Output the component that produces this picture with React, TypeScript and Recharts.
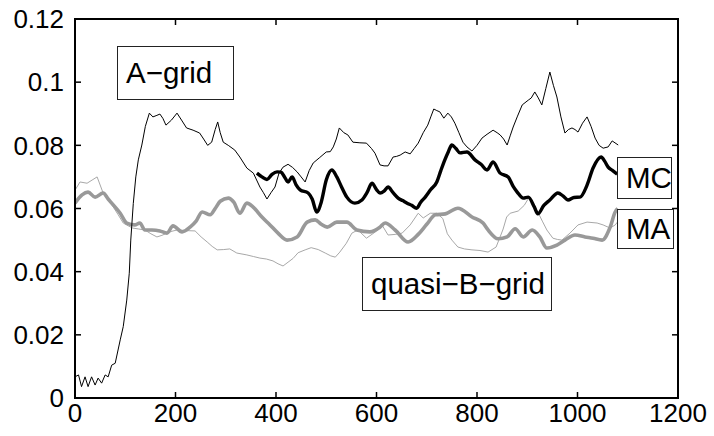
import React from "react";
import { LineChart, Line, XAxis, YAxis, ReferenceLine } from "recharts";

const xTicks = [0, 200, 400, 600, 800, 1000, 1200];
const yTicks = [0, 0.02, 0.04, 0.06, 0.08, 0.1, 0.12];

// A-grid (thin black)
const aGrid: [number, number][] = [
  [0, 0.0067], [7, 0.0073], [13, 0.0036], [20, 0.0067], [26, 0.0036], [33, 0.0067], [40, 0.0041], [46, 0.0063], [53, 0.0047], [60, 0.0073], [66, 0.0067], [73, 0.0104], [80, 0.011], [90, 0.0184], [96, 0.0226], [103, 0.031], [108, 0.0395], [111, 0.05], [116, 0.0616], [121, 0.07], [126, 0.0754], [133, 0.0801], [140, 0.086], [148, 0.0902], [155, 0.089], [163, 0.0895], [169, 0.0899], [175, 0.0885], [181, 0.0864], [192, 0.088], [203, 0.0902], [212, 0.088], [222, 0.0855], [235, 0.0848], [248, 0.0839], [256, 0.082], [264, 0.08], [272, 0.081], [279, 0.085], [284, 0.0874], [289, 0.084], [295, 0.081], [305, 0.08], [318, 0.0785], [328, 0.0763], [342, 0.0728], [355, 0.0712], [368, 0.0668], [375, 0.065], [382, 0.063], [390, 0.065], [398, 0.0668], [406, 0.0712], [414, 0.0731], [424, 0.074], [433, 0.073], [442, 0.0716], [450, 0.07], [458, 0.0684], [466, 0.072], [474, 0.0744], [486, 0.076], [500, 0.0779], [508, 0.078], [514, 0.0795], [520, 0.082], [526, 0.0855], [535, 0.084], [543, 0.0833], [553, 0.081], [567, 0.0808], [580, 0.0807], [590, 0.079], [597, 0.0775], [607, 0.0738], [615, 0.0735], [623, 0.0735], [633, 0.0763], [640, 0.0765], [647, 0.0769], [657, 0.0779], [667, 0.0773], [675, 0.079], [683, 0.0807], [693, 0.084], [702, 0.0864], [708, 0.089], [714, 0.0915], [720, 0.091], [726, 0.0906], [734, 0.0886], [742, 0.0902], [749, 0.089], [756, 0.087], [764, 0.084], [772, 0.081], [780, 0.0795], [790, 0.0782], [800, 0.08], [810, 0.0823], [820, 0.0835], [832, 0.0848], [840, 0.084], [846, 0.0833], [853, 0.082], [860, 0.0801], [866, 0.083], [872, 0.0858], [880, 0.089], [890, 0.0928], [902, 0.0943], [908, 0.095], [915, 0.0969], [922, 0.095], [929, 0.0928], [937, 0.098], [945, 0.1032], [952, 0.099], [959, 0.0953], [967, 0.089], [975, 0.0839], [982, 0.085], [989, 0.0855], [995, 0.085], [1001, 0.0842], [1010, 0.087], [1019, 0.089], [1027, 0.086], [1035, 0.0823], [1043, 0.08], [1051, 0.0791], [1061, 0.0795], [1069, 0.0814], [1081, 0.0801],
];

// MC (thick black)
const mc: [number, number][] = [
  [362, 0.0712], [372, 0.07], [382, 0.0692], [392, 0.0708], [402, 0.0716], [410, 0.0715], [417, 0.07], [424, 0.0684], [432, 0.07], [440, 0.0675], [448, 0.0659], [464, 0.0649], [472, 0.063], [481, 0.0589], [490, 0.062], [500, 0.069], [511, 0.0722], [521, 0.07], [530, 0.067], [541, 0.0636], [557, 0.0617], [571, 0.0627], [581, 0.065], [591, 0.068], [600, 0.066], [607, 0.0649], [615, 0.0655], [623, 0.0668], [633, 0.065], [643, 0.0633], [652, 0.0625], [661, 0.0617], [670, 0.061], [680, 0.0601], [688, 0.062], [697, 0.0636], [708, 0.066], [720, 0.0684], [728, 0.072], [736, 0.0754], [743, 0.078], [750, 0.0801], [758, 0.079], [766, 0.0776], [780, 0.0779], [796, 0.0754], [808, 0.074], [820, 0.0722], [832, 0.0747], [846, 0.0712], [862, 0.07], [872, 0.067], [880, 0.0652], [892, 0.0633], [902, 0.0636], [914, 0.0605], [921, 0.0583], [933, 0.061], [945, 0.0627], [961, 0.0649], [971, 0.064], [981, 0.0627], [993, 0.0635], [1005, 0.0636], [1019, 0.0674], [1031, 0.0728], [1047, 0.0763], [1054, 0.075], [1061, 0.0731], [1070, 0.072], [1079, 0.0709],
];

// quasi-B-grid (thin grey)
const quasiB: [number, number][] = [
  [0, 0.0658], [10, 0.0684], [24, 0.068], [34, 0.069], [44, 0.07], [56, 0.0649], [66, 0.063], [76, 0.0605], [86, 0.058], [96, 0.0554], [106, 0.0545], [115, 0.0538], [127, 0.0535], [139, 0.0532], [151, 0.052], [163, 0.051], [173, 0.0515], [183, 0.0522], [193, 0.0528], [203, 0.0532], [221, 0.053], [239, 0.0529], [251, 0.051], [263, 0.0494], [273, 0.048], [283, 0.0469], [296, 0.047], [308, 0.0472], [322, 0.0459], [342, 0.0453], [355, 0.0448], [368, 0.0443], [381, 0.044], [394, 0.0434], [404, 0.0425], [414, 0.0418], [424, 0.043], [434, 0.0442], [444, 0.046], [458, 0.0469], [470, 0.0476], [484, 0.047], [498, 0.0459], [509, 0.045], [518, 0.0446], [527, 0.0462], [540, 0.049], [551, 0.0522], [563, 0.0532], [580, 0.0506], [597, 0.0525], [612, 0.0545], [623, 0.0516], [637, 0.0518], [651, 0.0522], [667, 0.0548], [683, 0.0585], [693, 0.057], [707, 0.0585], [720, 0.0585], [732, 0.0568], [741, 0.052], [750, 0.05], [762, 0.0478], [775, 0.0472], [790, 0.0469], [806, 0.0467], [822, 0.0462], [838, 0.0478], [846, 0.051], [852, 0.0535], [859, 0.0573], [866, 0.0585], [882, 0.0592], [894, 0.061], [904, 0.0636], [914, 0.061], [921, 0.0589], [930, 0.056], [939, 0.0532], [951, 0.0506], [960, 0.0502], [969, 0.05], [985, 0.0522], [1001, 0.0548], [1019, 0.0557], [1039, 0.0554], [1051, 0.0548], [1065, 0.0538], [1075, 0.0548], [1081, 0.056],
];

// MA (thick grey)
const ma: [number, number][] = [
  [0, 0.0617], [14, 0.0643], [26, 0.0652], [40, 0.0636], [56, 0.0649], [66, 0.063], [73, 0.0617], [90, 0.0585], [103, 0.0554], [119, 0.0548], [129, 0.0554], [139, 0.0532], [153, 0.0532], [169, 0.0529], [183, 0.0522], [195, 0.0545], [213, 0.0526], [229, 0.0541], [241, 0.056], [253, 0.0589], [269, 0.058], [279, 0.06], [289, 0.0623], [305, 0.0633], [316, 0.062], [328, 0.0585], [342, 0.0617], [354, 0.0605], [372, 0.0573], [388, 0.0548], [404, 0.0522], [422, 0.05], [442, 0.051], [462, 0.0557], [478, 0.0564], [490, 0.055], [502, 0.0541], [521, 0.0557], [541, 0.0557], [561, 0.0532], [587, 0.0526], [607, 0.0541], [617, 0.0554], [637, 0.0532], [663, 0.0494], [683, 0.0518], [700, 0.055], [717, 0.058], [737, 0.0583], [762, 0.0601], [790, 0.0573], [812, 0.0554], [822, 0.0532], [842, 0.0504], [860, 0.051], [876, 0.0536], [892, 0.051], [910, 0.0532], [925, 0.051], [939, 0.0475], [959, 0.0484], [975, 0.05], [995, 0.0516], [1015, 0.051], [1031, 0.0506], [1049, 0.05], [1065, 0.0541], [1075, 0.0589], [1080, 0.06],
];

const labels = ["A\u2212grid", "MC", "MA", "quasi\u2212B\u2212grid"];

const toRows = (arr: [number, number][]) => arr.map(([x, y]) => ({ x, y }));

const xMin = xTicks[0];
const xMax = xTicks[xTicks.length - 1];
const yMin = yTicks[0];
const yMax = yTicks[yTicks.length - 1];
// inward tick mark length (about 6px) expressed in data units
const tickLenY = (yMax - yMin) * 6 / 379;
const tickLenX = (xMax - xMin) * 6 / 603;

const FONT = "'Liberation Sans', Arial, Helvetica, sans-serif";
const tickStyle = { fontSize: 26, fill: "#000", fontFamily: FONT };

// plot frame (layout)
const PLOT = { left: 75, top: 19, right: 678, bottom: 398 };

const boxStyle = (left: number, top: number, width: number, height: number): React.CSSProperties => ({
  position: "absolute",
  left,
  top,
  width,
  height,
  boxSizing: "border-box",
  border: "1px solid #222",
  background: "#fff",
  fontFamily: FONT,
  fontSize: 29.5,
  color: "#000",
  display: "flex",
  alignItems: "center",
  paddingLeft: 8,
  whiteSpace: "nowrap",
  lineHeight: 1,
});

export default function App() {
  return (
    <div style={{ position: "absolute", left: 0, top: 0, width: 714, height: 436, background: "#fff" }}>
      <LineChart width={714} height={436} margin={{ top: PLOT.top, right: 714 - PLOT.right, bottom: 0, left: 0 }}>
        <XAxis
          dataKey="x"
          type="number"
          domain={[xMin, xMax]}
          ticks={xTicks}
          interval={0}
          height={436 - PLOT.bottom}
          tickSize={0}
          tickMargin={6}
          tick={tickStyle}
          axisLine={false}
          tickLine={false}
          allowDataOverflow
        />
        <YAxis
          type="number"
          domain={[yMin, yMax]}
          ticks={yTicks}
          interval={0}
          width={PLOT.left}
          tickSize={0}
          tickMargin={11}
          tick={tickStyle}
          axisLine={false}
          tickLine={false}
          allowDataOverflow
        />
        <Line data={toRows(quasiB)} dataKey="y" type="linear" stroke="#a8a8a8" strokeWidth={1} dot={false} isAnimationActive={false} />
        <Line data={toRows(ma)} dataKey="y" type="monotone" stroke="#999999" strokeWidth={3.6} dot={false} isAnimationActive={false} />
        <Line data={toRows(aGrid)} dataKey="y" type="linear" stroke="#000" strokeWidth={1} dot={false} isAnimationActive={false} />
        <Line data={toRows(mc)} dataKey="y" type="monotone" stroke="#000" strokeWidth={3.4} dot={false} isAnimationActive={false} />
        {xTicks.slice(1, -1).map((t) => (
          <ReferenceLine key={"xb" + t} segment={[{ x: t, y: yMin }, { x: t, y: yMin + tickLenY }]} stroke="#000" strokeWidth={1.5} ifOverflow="visible" />
        ))}
        {xTicks.slice(1, -1).map((t) => (
          <ReferenceLine key={"xt" + t} segment={[{ x: t, y: yMax }, { x: t, y: yMax - tickLenY }]} stroke="#000" strokeWidth={1.5} ifOverflow="visible" />
        ))}
        {yTicks.slice(1, -1).map((t) => (
          <ReferenceLine key={"yl" + t} segment={[{ x: xMin, y: t }, { x: xMin + tickLenX, y: t }]} stroke="#000" strokeWidth={1.5} ifOverflow="visible" />
        ))}
        {yTicks.slice(1, -1).map((t) => (
          <ReferenceLine key={"yr" + t} segment={[{ x: xMax, y: t }, { x: xMax - tickLenX, y: t }]} stroke="#000" strokeWidth={1.5} ifOverflow="visible" />
        ))}
      </LineChart>
      <svg
        width={714}
        height={436}
        style={{ position: "absolute", left: 0, top: 0, pointerEvents: "none" }}
      >
        <rect
          x={PLOT.left}
          y={PLOT.top}
          width={PLOT.right - PLOT.left}
          height={PLOT.bottom - PLOT.top}
          fill="none"
          stroke="#000"
          strokeWidth={2}
        />
      </svg>
      <div style={boxStyle(117, 46, 117, 54)}>{labels[0]}</div>
      <div style={boxStyle(617, 157, 55, 42)}>{labels[1]}</div>
      <div style={boxStyle(617, 209, 57, 40)}>{labels[2]}</div>
      <div style={boxStyle(362, 257, 190, 54)}>{labels[3]}</div>
    </div>
  );
}
